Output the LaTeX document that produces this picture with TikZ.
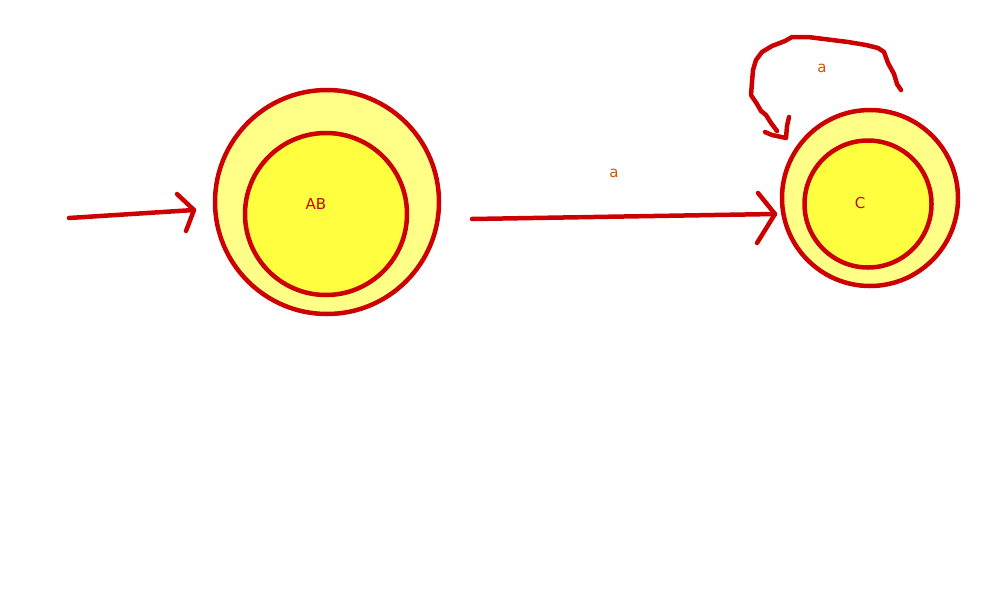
\documentclass[tikz,border=0pt]{standalone}
\usepackage{fontspec}
\setmainfont{DejaVu Sans}
\definecolor{stroke}{RGB}{204,0,0}
\definecolor{outerfill}{RGB}{255,255,136}
\definecolor{innerfill}{RGB}{255,255,64}
\definecolor{lbl}{RGB}{214,84,0}
\begin{document}
\begin{tikzpicture}[x=1pt,y=-1pt,
  pen/.style={draw=stroke,line width=4.5pt,line cap=round,line join=round},
  outerstate/.style={circle,pen,fill=outerfill,inner sep=0pt},
  innerstate/.style={circle,pen,fill=innerfill,inner sep=0pt},
  statelabel/.style={text=stroke,font=\fontsize{15}{18}\selectfont,inner sep=0pt},
  edgelabel/.style={text=lbl,font=\fontsize{15}{18}\selectfont,inner sep=0pt}]
\useasboundingbox (0,0) rectangle (1000,600);
% state AB
\node[outerstate,minimum size=224pt] (ABo) at (327,202) {};
\node[innerstate,minimum size=162pt] (ABi) at (326,214) {};
\node[statelabel] (AB) at (316,204) {AB};
% state C
\node[outerstate,minimum size=176pt] (Co) at (870,198) {};
\node[innerstate,minimum size=127pt] (Ci) at (868,204) {};
\node[statelabel] (C) at (860,203) {C};
% initial arrow
\coordinate (s0) at (69,218);
\coordinate (t0) at (194,210);
\draw[pen] (s0) -- (t0);
\draw[pen] (177,194) -- (t0) -- (186,231);
% edge AB -> C
\coordinate (s1) at (472,219);
\coordinate (t1) at (775,214);
\draw[pen] (s1) -- (t1);
\draw[pen] (758,193) -- (t1) -- (757,243);
\node[edgelabel] (la) at (614,173) {a};
% self loop on C
\coordinate (s2) at (901,90);
\coordinate (t2) at (786,138);
\draw[pen] (s2) -- (897,84) -- (894,74) -- (888,63) -- (884,52) -- (878,48) -- (866,45)
  -- (848,42) -- (824,39) -- (808,37) -- (792,37) -- (785,41) -- (772,46) -- (762,52)
  -- (756,60) -- (753,70) -- (752,82) -- (751,95) -- (757,104) -- (761,111) -- (766,115)
  -- (771,123) -- (777,131);
\draw[pen] (765,132) -- (772,135) -- (t2) -- (787,126) -- (789,117);
\node[edgelabel] (lb) at (822,68) {a};
\end{tikzpicture}
\end{document}
